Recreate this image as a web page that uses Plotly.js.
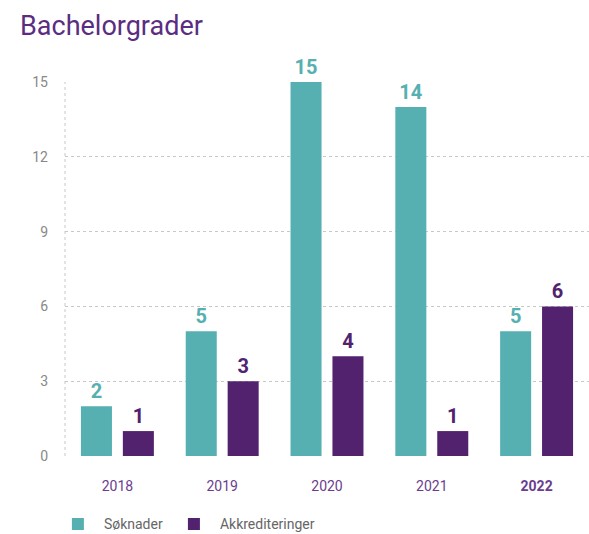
<!DOCTYPE html>
<html><head><meta charset="utf-8">
<script src="https://cdn.plot.ly/plotly-3.0.1.min.js"></script>
<style>body{margin:0;background:#fff}#c{width:589px;height:534px}</style>
</head><body><div id="c"></div>
<script>
const years = ['2018','2019','2020','2021','2022'];
const yearLabels = ['2018','2019','2020','2021','<b>2022</b>'];
const soknader = [2,5,15,14,5];
const akkrediteringer = [1,3,4,1,6];
const seriesNames = ['Søknader','Akkrediteringer'];
const teal = '#56AFB0', purple = '#52226F';
const traces = [
  {type:'bar', name:seriesNames[0], x:years, y:soknader, marker:{color:teal},
   text:soknader.map(String), textposition:'outside', cliponaxis:false,
   textfont:{family:'Roboto', size:20, color:teal, weight:700}, hoverinfo:'none'},
  {type:'bar', name:seriesNames[1], x:years, y:akkrediteringer, marker:{color:purple},
   text:akkrediteringer.map(String), textposition:'outside', cliponaxis:false,
   textfont:{family:'Roboto', size:20, color:purple, weight:700}, hoverinfo:'none'}
];
const layout = {
  width:589, height:534,
  margin:{l:65, r:0, t:82, b:78},
  paper_bgcolor:'#fff', plot_bgcolor:'#fff',
  font:{family:'Roboto', color:'#777'},
  title:{text:'Bachelorgrader', x:0.034, xanchor:'left', y:0.952, yanchor:'middle',
         font:{family:'Roboto', size:27, color:'#5A2D82', weight:400}},
  barmode:'group', bargap:0.20, bargroupgap:0.26,
  xaxis:{type:'category', tickvals:years, ticktext:yearLabels, showgrid:false, automargin:false,
         showline:false, zeroline:false, ticks:'', ticklabelstandoff:20,
         tickfont:{family:'Roboto', size:14, color:'#6A3D8E'}},
  yaxis:{range:[0,15], dtick:3, showgrid:true, gridcolor:'#c8c8c8', griddash:'dot', automargin:false,
         gridwidth:1, zeroline:false, showline:false, ticks:'', ticklabelstandoff:16,
         tickfont:{family:'Roboto', size:14, color:'#888'}},
  shapes:[{type:'line', xref:'paper', yref:'paper', x0:0, x1:0, y0:0, y1:1,
           line:{color:'#c8c8c8', width:1, dash:'dot'}}],
  legend:{orientation:'h', x:-0.025, xanchor:'left', yref:'container', y:0.048, yanchor:'top',
          font:{family:'Roboto', size:14, color:'#666'}, tracegroupgap:0, itemwidth:42},
  showlegend:true
};
Plotly.newPlot('c', traces, layout, {displayModeBar:false, staticPlot:true});
</script></body></html>
